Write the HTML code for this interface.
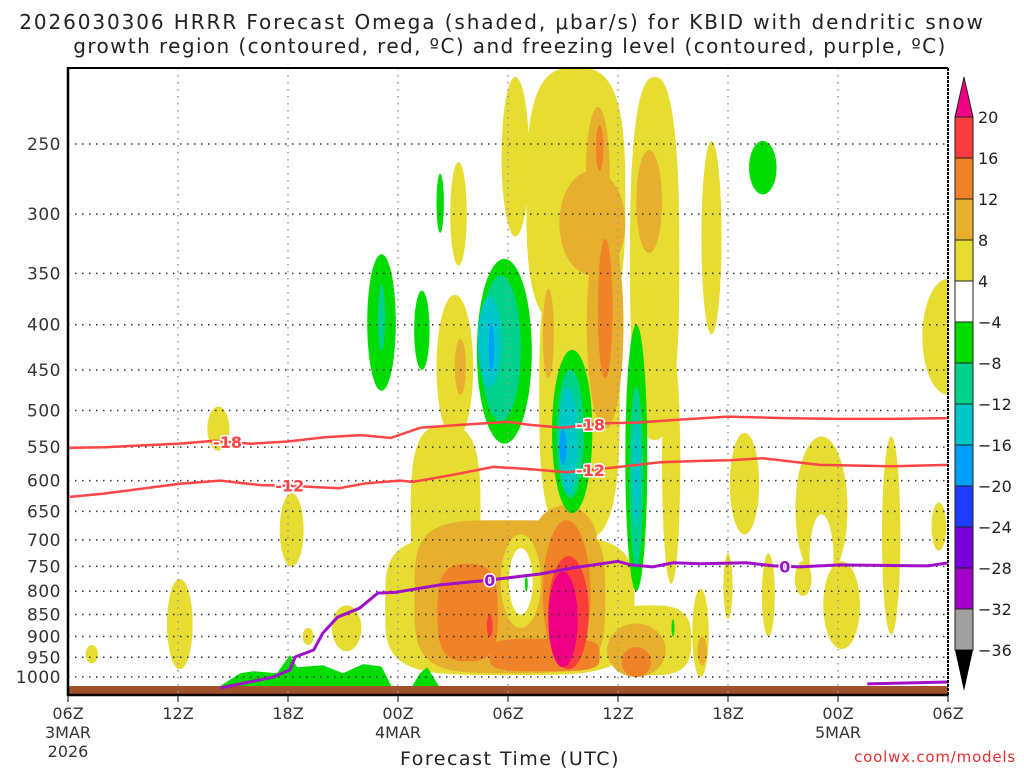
<!DOCTYPE html>
<html><head><meta charset="utf-8">
<style>
html,body{margin:0;padding:0;background:#fff;}
svg{display:block;font-family:"DejaVu Sans","Liberation Sans",sans-serif;}
</style></head>
<body>
<svg id="chart" width="1024" height="768" viewBox="0 0 1024 768" xmlns="http://www.w3.org/2000/svg">
<defs><clipPath id="plotclip"><rect x="68" y="68" width="880" height="627"/></clipPath></defs>
<text x="502" y="29" text-anchor="middle" font-size="20" letter-spacing="1.9" fill="#222">2026030306 HRRR Forecast Omega (shaded, μbar/s) for KBID with dendritic snow</text>
<text x="510" y="53" text-anchor="middle" font-size="20" letter-spacing="1.4" fill="#222">growth region (contoured, red, ºC) and freezing level (contoured, purple, ºC)</text>
<g id="shading" clip-path="url(#plotclip)"></g>
<g id="grid"></g>
<g id="lines" clip-path="url(#plotclip)"></g>
<g id="axes"></g>
<g id="cbar"></g>
<text x="510" y="765" text-anchor="middle" font-size="19" letter-spacing="1.5" fill="#222">Forecast Time (UTC)</text>
<text x="1016" y="762" text-anchor="end" font-size="15" letter-spacing="0.8" fill="#e03030">coolwx.com/models</text>
</svg>
<script>
var pressureTicks=[250,300,350,400,450,500,550,600,650,700,750,800,850,900,950,1000];
var timeTickHours=[0,6,12,18,24,30,36,42,48];
var timeTickLabels=["06Z","12Z","18Z","00Z","06Z","12Z","18Z","00Z","06Z"];
var timeTickDates=["3MAR\n2026","","","4MAR","","","","5MAR",""];
var cbarLevels=[20,16,12,8,4,-4,-8,-12,-16,-20,-24,-28,-32,-36];
var cbarColors=["#fa3c3c","#f08228","#e6af2d","#e6dc32","#ffffff","#00dc00","#00d28c","#00c8c8","#00a0ff","#1e3cff","#7800dc","#a000c8","#a0a0a0"];
// blobs: [level, hour, halfWidthHours, pTop, pBot, shapeExp]
var blobs=[
[4,1.3,0.33,920,965,2],[4,6.1,0.7,775,980,2],[4,8.2,0.6,495,555,2],[4,12.2,0.65,620,750,2],
[4,13.1,0.3,880,920,2],[4,15.2,0.8,830,935,2],[4,24.1,6.8,690,995,4],[4,31.8,2.2,830,995,3],
[4,20.6,1.9,520,810,3],[4,21.1,1.0,370,540,2],[4,21.3,0.45,262,343,2],[4,27.7,2.7,205,405,3],
[4,24.4,0.75,210,318,2],[4,32.0,1.35,210,540,2.5],[4,27.9,2.2,328,700,3],[4,32.9,0.5,420,785,2],
[4,36.9,0.8,530,690,2],[4,36.0,0.25,725,860,2],[4,38.2,0.35,725,900,2],[4,41.1,1.42,535,780,2],
[0,41.1,0.65,655,820,2],[4,42.2,1.0,740,930,2],[4,40.1,0.45,740,810,2],[4,44.9,0.5,535,895,2],
[4,47.5,0.4,635,720,2],[4,34.5,0.45,795,1000,2],[4,48,1.4,355,480,2],[4,35.1,0.55,248,410,2],
[8,28.6,1.8,268,352,2],[8,28.9,0.65,227,325,2],[8,29.3,1.0,305,525,2],[8,31.7,0.7,254,332,2],
[8,26.2,0.3,364,460,2],[8,21.4,0.3,415,480,2],[12,29.0,0.2,238,268,2],[12,29.3,0.4,320,460,2],
[8,24.1,5.2,665,990,4],[8,27.1,1.75,640,770,2],[8,31.0,1.6,870,1000,2],[8,34.6,0.25,900,970,2],
[4,24.7,1.1,690,880,2],[0,24.7,0.65,715,850,2],
[12,21.8,1.65,745,960,3],[12,26.0,3.0,905,985,4],[12,27.2,1.3,665,975,2],[12,31.0,0.8,925,1000,2],
[16,27.3,1.1,730,980,2],[16,23.0,0.15,850,900,2],[20,27.0,0.8,760,975,2],
[-4,17.1,0.78,333,475,2],[-8,17.1,0.2,360,428,2],[-4,19.3,0.42,366,450,2],[-4,20.3,0.2,270,315,2],
[-4,23.8,1.5,337,545,2],[-8,23.6,1.1,352,514,2],[-12,23.0,0.65,372,470,2],[-16,23.1,0.15,398,452,2],
[-4,27.5,1.1,427,653,2],[-8,27.4,0.75,450,628,2],[-12,27.3,0.5,470,620,2],[-16,27.0,0.2,525,575,2],
[-4,31.0,0.6,400,800,2],[-8,31.0,0.38,470,750,2],[-12,31.0,0.2,512,675,2],[-4,37.9,0.75,248,285,2],
[-4,25.0,0.08,770,800,2],[-4,33.0,0.08,860,900,2]
];
var groundGreenHours=[8.1,9.4,10.1,11.4,12.1,12.5,13.9,15.0,16.1,17.1,17.7];
var groundGreenP=[1030,990,985,990,945,975,970,990,967,973,1030];
var groundGreen2Hours=[18.7,19.2,19.6,20.3];
var groundGreen2P=[1030,990,975,1030];
var t18Hours=[0,2,6,8,10,12,14,16,17.6,19.2,21.4,24,25.2,27,29,31,33.4,36,39,42,45,48];
var t18P=[551,550,545,541,545,542,536,533,537,523,519,515,519,523,517,516,512,508,510,511,511,510];
var t12Hours=[0.1,1.9,6.1,8.3,10.5,12.1,13.4,14.8,16.3,18.1,18.8,21,23.2,25,27.2,30.1,32.3,34.5,36.1,37.9,41,45,48];
var t12P=[626,621,605,600,607,608,610,612,604,600,602,591,579,582,587,579,572,570,569,566,576,578,576];
var fzHours=[8.3,11.2,12.1,12.4,13.4,13.9,14.7,15.9,16.9,17.9,20.3,23,25.75,27.5,30,30.7,31.9,33,34.5,37,38.5,39.9,42.1,46.9,48];
var fzP=[1029,1000,982,949,932,892,856,836,804,802,787,777,765,753,740,747,751,743,745,743,749,751,747,749,743];
var fz2Hours=[43.6,48];
var fz2P=[1018,1013];
var lineLabels=[["-18",8.7,"t18"],["-12",12.1,"t12"],["-18",28.5,"t18"],["-12",28.5,"t12"],["0",23,"fz"],["0",39.1,"fz"]];

var NS="http://www.w3.org/2000/svg";
function xOf(h){return 68+h*880/48;}
function yOf(p){return 144+384.5*Math.log(p/250);}
function colorOf(l){var m={"4":"#e6dc32","8":"#e6af2d","12":"#f08228","16":"#fa3c3c","20":"#f00082","0":"#ffffff","-4":"#00dc00","-8":"#00d28c","-12":"#00c8c8","-16":"#00a0ff"};return m[String(l)];}
function mk(tag,parent){var e=document.createElementNS(NS,tag);parent.appendChild(e);return e;}
var shading=document.getElementById('shading');
blobs.forEach(function(b,i){
  var cx=xOf(b[1]),w=b[2]*880/48,yt=yOf(b[3]),yb=yOf(b[4]),cy=(yt+yb)/2,hh=(yb-yt)/2,n=b[5];
  var pts=[];
  for(var k=0;k<64;k++){var t=k/64*2*Math.PI,c=Math.cos(t),s=Math.sin(t);
    pts.push((cx+w*Math.sign(c)*Math.pow(Math.abs(c),2/n)).toFixed(1)+","+(cy+hh*Math.sign(s)*Math.pow(Math.abs(s),2/n)).toFixed(1));}
  var e=mk('polygon',shading);
  e.setAttribute('points',pts.join(' '));e.setAttribute('fill',colorOf(b[0]));
  
  
});
function area(hs,ps,name){
  var pts=hs.map(function(h,i){return xOf(h).toFixed(1)+","+yOf(ps[i]).toFixed(1);});
  var e=mk('polygon',shading);e.setAttribute('points',pts.join(' '));e.setAttribute('fill','#00dc00');
  
  
}
area(groundGreenHours,groundGreenP,'low-level-sinking-region');
area(groundGreen2Hours,groundGreen2P,'low-level-sinking-region-2');
var ground=mk('rect',shading);ground.setAttribute('x',68);ground.setAttribute('y',686);ground.setAttribute('width',880);ground.setAttribute('height',9);ground.setAttribute('fill','#a0522d');



var grid=document.getElementById('grid');
pressureTicks.forEach(function(p){
  var l=mk('line',grid);l.setAttribute('x1',68);l.setAttribute('x2',948);l.setAttribute('y1',yOf(p));l.setAttribute('y2',yOf(p));
  l.setAttribute('stroke','#333');l.setAttribute('stroke-dasharray','1.5 5.5');l.setAttribute('stroke-width','1.5');
  
  
  var t=mk('text',grid);t.setAttribute('x',61);t.setAttribute('y',yOf(p)+6);t.setAttribute('text-anchor','end');t.setAttribute('font-size','17');t.setAttribute('letter-spacing','0.5');t.setAttribute('fill','#333');t.textContent=p;
  
  
});
timeTickHours.forEach(function(h,i){
  var x=xOf(h);
  if(i>0&&i<timeTickHours.length-1){var l=mk('line',grid);l.setAttribute('x1',x);l.setAttribute('x2',x);l.setAttribute('y1',68);l.setAttribute('y2',695);
  l.setAttribute('stroke','#999');l.setAttribute('stroke-dasharray','1.5 5.5');l.setAttribute('stroke-width','1.5');
  
  }
  var tk=mk('line',grid);tk.setAttribute('x1',x);tk.setAttribute('x2',x);tk.setAttribute('y1',695);tk.setAttribute('y2',702);tk.setAttribute('stroke','#000');
  var t=mk('text',grid);t.setAttribute('x',x);t.setAttribute('y',719);t.setAttribute('text-anchor','middle');t.setAttribute('font-size','16');t.setAttribute('fill','#333');t.textContent=timeTickLabels[i];
  
  
  timeTickDates[i].split("\n").forEach(function(s,j){if(!s)return;
    var d=mk('text',grid);d.setAttribute('x',x);d.setAttribute('y',738+j*19);d.setAttribute('text-anchor','middle');d.setAttribute('font-size','16');d.setAttribute('fill','#333');d.textContent=s;
    
    });
});

var lines=document.getElementById('lines');
var series={t18:[t18Hours,t18P,'#ff4545',2.5],t12:[t12Hours,t12P,'#ff4545',2.5],fz:[fzHours,fzP,'#a010c8',3],fz2:[fz2Hours,fz2P,'#a010c8',3]};
function interp(s,h){var hs=s[0],ps=s[1];for(var i=0;i<hs.length-1;i++){if(h>=hs[i]&&h<=hs[i+1]){var f=(h-hs[i])/(hs[i+1]-hs[i]);return ps[i]+f*(ps[i+1]-ps[i]);}}return ps[ps.length-1];}
Object.keys(series).forEach(function(k){var s=series[k];
  var pl=mk('polyline',lines);pl.setAttribute('points',s[0].map(function(h,i){return xOf(h).toFixed(1)+","+yOf(s[1][i]).toFixed(1);}).join(' '));
  pl.setAttribute('fill','none');pl.setAttribute('stroke',s[2]);pl.setAttribute('stroke-width',s[3]);pl.setAttribute('stroke-linejoin','round');
  
  
});
lineLabels.forEach(function(L){var s=series[L[2]];var x=xOf(L[1]),y=yOf(interp(s,L[1]));
  var t=mk('text',lines);t.setAttribute('x',x);t.setAttribute('y',y+6);t.setAttribute('text-anchor','middle');t.setAttribute('font-size','16');t.setAttribute('font-weight','bold');t.setAttribute('fill',s[2]);
  t.setAttribute('stroke','#fff');t.setAttribute('stroke-width','3');t.setAttribute('paint-order','stroke');t.textContent=L[0];
  
  
});

var axes=document.getElementById('axes');
function ln(x1,y1,x2,y2,w,dash){var l=mk('line',axes);l.setAttribute('x1',x1);l.setAttribute('y1',y1);l.setAttribute('x2',x2);l.setAttribute('y2',y2);l.setAttribute('stroke','#000');l.setAttribute('stroke-width',w);if(dash)l.setAttribute('stroke-dasharray',dash);return l;}
ln(68,68,948,68,2);ln(68,67,68,696,2.5);ln(68,695,948,695,2.5);ln(948,68,948,695,2,'3 1');

var cbar=document.getElementById('cbar');
var cx0=955,cw=18,ytop=117,bh=41;
cbarColors.forEach(function(c,i){var r=mk('rect',cbar);r.setAttribute('x',cx0);r.setAttribute('y',ytop+i*bh);r.setAttribute('width',cw);r.setAttribute('height',bh);r.setAttribute('fill',c);r.setAttribute('stroke','#222');r.setAttribute('stroke-width','1');
  
  });
var tri1=mk('polygon',cbar);tri1.setAttribute('points',cx0+','+ytop+' '+(cx0+cw)+','+ytop+' '+(cx0+cw/2)+',77');tri1.setAttribute('fill','#f00082');tri1.setAttribute('stroke','#222');


var yb=ytop+cbarColors.length*bh;
var tri2=mk('polygon',cbar);tri2.setAttribute('points',cx0+','+yb+' '+(cx0+cw)+','+yb+' '+(cx0+cw/2)+',691');tri2.setAttribute('fill','#000');


cbarLevels.forEach(function(v,i){var t=mk('text',cbar);t.setAttribute('x',978);t.setAttribute('y',ytop+i*bh+6);t.setAttribute('font-size','16');t.setAttribute('fill','#222');t.textContent=v<0?'−'+(-v):String(v);
  
  });
</script>
</body></html>
